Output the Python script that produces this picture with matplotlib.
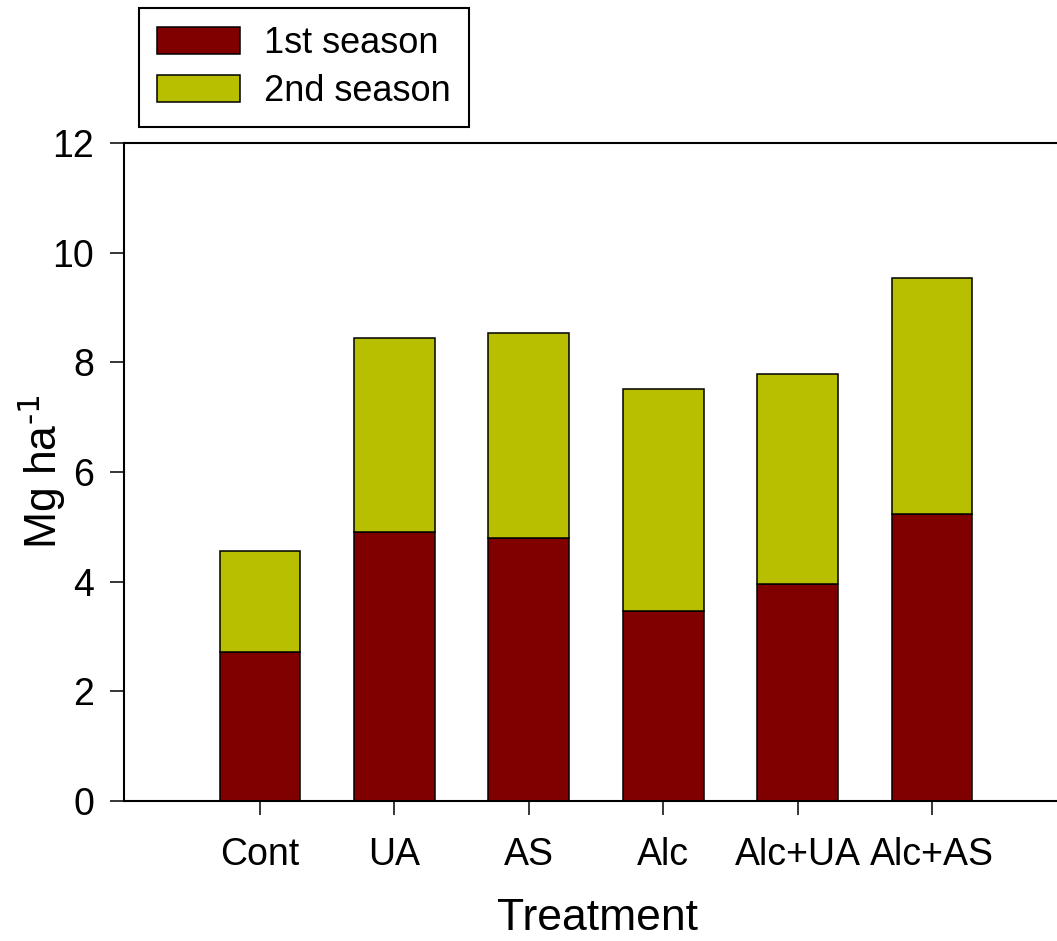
import matplotlib
matplotlib.use("Agg")
import matplotlib.pyplot as plt
import numpy as np

categories = ["Cont", "UA", "AS", "Alc", "Alc+UA", "Alc+AS"]
season1 = [2.71, 4.91, 4.79, 3.46, 3.95, 5.23]
total = [4.56, 8.45, 8.53, 7.51, 7.78, 9.54]
season2 = [t - s for t, s in zip(total, season1)]
yticks = [0, 2, 4, 6, 8, 10, 12]

plt.rcParams['font.family'] = ['Liberation Sans', 'DejaVu Sans']
plt.rcParams['mathtext.default'] = 'regular'

W, H = 1057, 941
fig = plt.figure(figsize=(W / 100, H / 100), dpi=100)
ax = fig.add_axes([124 / W, 1 - 801 / H, (1057 - 124) / W, (801 - 143) / H])

x = np.arange(len(categories))
c1 = '#800000'
c2 = '#b8be00'
b1 = ax.bar(x, season1, width=0.6, color=c1, edgecolor='black', linewidth=1.1, label='1st season')
b2 = ax.bar(x, season2, bottom=season1, width=0.6, color=c2, edgecolor='black', linewidth=1.1, label='2nd season')

ax.set_xlim(-1.012, 5.93)
ax.set_ylim(0, 12)
ax.set_yticks(yticks)
ax.set_xticks(x)
ax.set_xticklabels(categories)

for s in ['left', 'bottom', 'top']:
    ax.spines[s].set_linewidth(1.5)
ax.spines['right'].set_visible(False)

ax.tick_params(axis='both', direction='out', length=10, width=1.1, labelsize=27)
ax.tick_params(axis='y', pad=11.5)
ax.tick_params(axis='x', pad=16)

ax.set_xlabel('Treatment', fontsize=32, labelpad=18)
ax.xaxis.label.set_x((597 - 124) / (1057 - 124))
ax.set_ylabel(r'Mg ha$^{\text{-1}}$', fontsize=32)
ax.yaxis.set_label_coords((68 - 124) / (1057 - 124), 0.5)

leg = fig.legend(handles=[b1, b2], labels=['1st season', '2nd season'],
                 loc='upper left', bbox_to_anchor=(139 / W, 1 - 8 / H),
                 bbox_transform=fig.transFigure, borderaxespad=0,
                 fontsize=26, handlelength=2.3, handleheight=0.78,
                 handletextpad=0.66, borderpad=0.5, labelspacing=0.35,
                 fancybox=False, framealpha=1, edgecolor='black')
leg.get_frame().set_linewidth(1.5)

fig.savefig('out.png', dpi=100)
